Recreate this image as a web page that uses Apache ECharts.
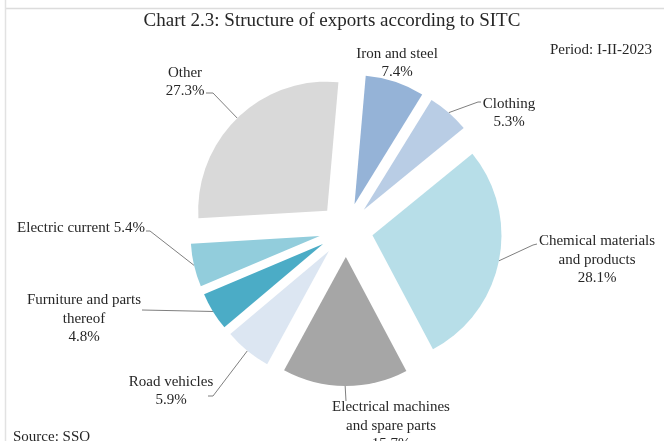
<!DOCTYPE html>
<html>
<head>
<meta charset="utf-8">
<script src="https://cdn.jsdelivr.net/npm/echarts@6/dist/echarts.min.js"></script>
<style>
  html, body { margin: 0; padding: 0; background: #ffffff; }
  #chart { width: 664px; height: 441px; }
</style>
</head>
<body>
<div id="chart"></div>
<script>
// Export structure by SITC section, share of total (%), period I-II-2023
const categories = [
  'Iron and steel',
  'Clothing',
  'Chemical materials and products',
  'Electrical machines and spare parts',
  'Road vehicles',
  'Furniture and parts thereof',
  'Electric current',
  'Other'
];
const shares = [7.4, 5.3, 28.1, 15.7, 5.9, 4.8, 5.4, 27.3];
// how each category name is broken over lines in its label
const labelNames = [
  'Iron and steel',
  'Clothing',
  'Chemical materials\nand products',
  'Electrical machines\nand spare parts',
  'Road vehicles',
  'Furniture and parts\nthereof',
  'Electric current',
  'Other'
];
const sliceColors = ['#95b3d7', '#b9cde5', '#b7dee8', '#a6a6a6', '#dce6f2', '#4bacc6', '#92cddc', '#d9d9d9'];

// pie geometry
const PIE_CENTER = [346, 230];
const PIE_RADIUS = 129;
const EXPLODE = 27;           // every slice is pulled out from the centre
const FIRST_ANGLE = 5;        // degrees clockwise from 12 o'clock where the first slice starts

// label anchors and the bend points of their leader lines
const labelLayoutCfg = [
  { x: 397, y: 63,  align: 'center', bend: null },
  { x: 509, y: 113, align: 'center', bend: [[478, 102], [481, 102]] },
  { x: 597, y: 260, align: 'center', bend: [[533, 245], [537, 244]] },
  { x: 391, y: 426, align: 'center', bend: [[346, 401]] },
  { x: 171, y: 391, align: 'center', bend: [[213, 396], [208, 396]] },
  { x: 84,  y: 319, align: 'center', bend: [[142, 310]] },
  { x: 81,  y: 228, align: 'center', bend: [[150, 231], [146, 231]] },
  { x: 185, y: 82,  align: 'center', bend: [[213, 93], [206, 93]] }
];

const total = shares.reduce((a, b) => a + b, 0);
const cumulative = [];
shares.reduce((acc, v, i) => { cumulative[i] = acc; return acc + v; }, 0);

function midDirection(i) {
  const deg = FIRST_ANGLE + (cumulative[i] + shares[i] / 2) / total * 360;
  const rad = deg * Math.PI / 180;
  return [Math.sin(rad), -Math.cos(rad)];
}

const FONT = 'Liberation Serif';
const TEXT_COLOR = '#262626';

// one series per slice, each shifted outward along its own bisector
const series = categories.map(function (cat, i) {
  const dir = midDirection(i);
  const center = [PIE_CENTER[0] + EXPLODE * dir[0], PIE_CENTER[1] + EXPLODE * dir[1]];
  const cfg = labelLayoutCfg[i];
  return {
    type: 'pie',
    center: center,
    radius: PIE_RADIUS,
    startAngle: 90 - FIRST_ANGLE,
    clockwise: true,
    avoidLabelOverlap: false,
    silent: true,
    animation: false,
    emphasis: { disabled: true },
    data: categories.map(function (name, j) {
      const visible = j === i;
      return {
        name: name,
        value: shares[j],
        itemStyle: { color: visible ? sliceColors[j] : 'rgba(0,0,0,0)', borderWidth: 0 },
        label: {
          show: visible,
          position: 'outside',
          formatter: labelNames[j] + (name === 'Electric current' ? ' ' : '\n') + shares[j].toFixed(1) + '%',
          fontFamily: FONT,
          fontSize: 15,
          lineHeight: 18.5,
          color: TEXT_COLOR,
          align: 'center'
        },
        labelLine: {
          show: visible && cfg.bend !== null,
          lineStyle: { color: '#7f7f7f', width: 1 }
        }
      };
    }),
    labelLayout: function (params) {
      const start = [center[0] + PIE_RADIUS * dir[0], center[1] + PIE_RADIUS * dir[1]];
      const out = { x: cfg.x, y: cfg.y, align: cfg.align, verticalAlign: 'middle' };
      if (cfg.bend) out.labelLinePoints = [start].concat(cfg.bend);
      return out;
    }
  };
});

const chart = echarts.init(document.getElementById('chart'), null, { renderer: 'canvas' });
chart.setOption({
  backgroundColor: '#ffffff',
  animation: false,
  series: series,
  graphic: [
    { type: 'line', silent: true, shape: { x1: 6, y1: 8.5, x2: 664, y2: 8.5 }, style: { stroke: '#dcdcdc', lineWidth: 1.5 } },
    { type: 'line', silent: true, shape: { x1: 5.5, y1: 0, x2: 5.5, y2: 441 }, style: { stroke: '#e2e2e2', lineWidth: 1.5 } },
    { type: 'text', silent: true, left: 15, top: -13, style: { text: 'Source: SSO', fontFamily: FONT, fontSize: 15, fill: '#a0a0a0' } },
    { type: 'text', silent: true, left: 'center', top: 12, style: { text: 'Chart 2.3: Structure of exports according to SITC', fontFamily: FONT, fontSize: 19, fill: TEXT_COLOR } },
    { type: 'text', silent: true, right: 12, top: 43, style: { text: 'Period: I-II-2023', fontFamily: FONT, fontSize: 15, fill: TEXT_COLOR } },
    { type: 'text', silent: true, left: 13, top: 430, style: { text: 'Source: SSO', fontFamily: FONT, fontSize: 15, fill: TEXT_COLOR } }
  ]
});
</script>
</body>
</html>
